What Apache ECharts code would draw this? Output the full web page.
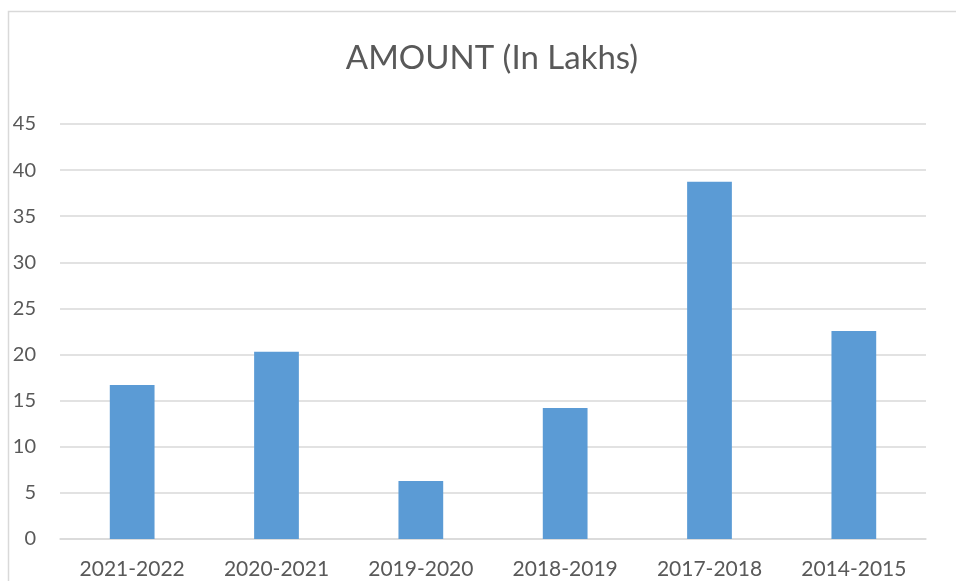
<!DOCTYPE html>
<html>
<head>
<meta charset="utf-8">
<script src="https://cdn.jsdelivr.net/npm/echarts@6/dist/echarts.min.js"></script>
<style>
html,body{margin:0;padding:0;background:#fff;}
#c{width:956px;height:581px;}
</style>
</head>
<body>
<div id="c"></div>
<script>
const categories = ['2021-2022','2020-2021','2019-2020','2018-2019','2017-2018','2014-2015'];
const amounts = [16.7, 20.3, 6.3, 14.2, 38.75, 22.55];
const yTicks = [0,5,10,15,20,25,30,35,40,45];

const chart = echarts.init(document.getElementById('c'), null, {renderer:'canvas'});
chart.setOption({
  animation:false,
  backgroundColor:'#ffffff',
  title:{
    text:'AMOUNT (In Lakhs)',
    left:487, top:53, textAlign:'center', textVerticalAlign:'middle',
    textStyle:{fontFamily:'Lato', fontSize:33, fontWeight:'normal', color:'#595959'}
  },
  graphic:[{
    type:'rect', shape:{x:8.5, y:11.5, width:1000, height:1000},
    style:{fill:null, stroke:'#d9d9d9', lineWidth:1.5}, silent:true
  }],
  grid:{left:60, right:30, top:124, bottom:42, containLabel:false},
  xAxis:{
    type:'category', data:categories,
    axisLine:{show:true, lineStyle:{color:'#d9d9d9', width:1.5}},
    axisTick:{show:false},
    axisLabel:{color:'#595959', fontFamily:'Lato', fontSize:21, margin:20}
  },
  yAxis:{
    type:'value', min:yTicks[0], max:yTicks[yTicks.length-1], interval:5,
    axisLine:{show:false}, axisTick:{show:false},
    axisLabel:{color:'#595959', fontFamily:'Lato', fontSize:20, margin:24},
    splitLine:{lineStyle:{color:'#d9d9d9', width:1.5}}
  },
  series:[{
    type:'bar', data:amounts, barWidth:'31%',
    itemStyle:{color:'#5b9bd5'}
  }]
});
</script>
</body>
</html>
